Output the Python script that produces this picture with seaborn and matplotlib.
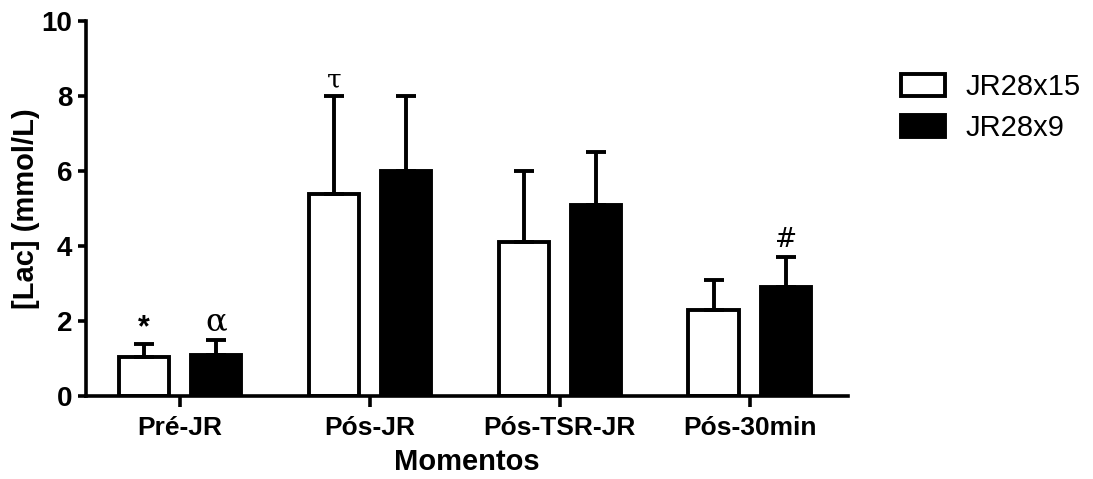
import matplotlib
matplotlib.use("Agg")
import matplotlib.pyplot as plt
import seaborn as sns
import pandas as pd
import numpy as np

categories = ["Pré-JR", "Pós-JR", "Pós-TSR-JR", "Pós-30min"]
groups = ["JR28x15", "JR28x9"]
means_jr15 = [1.05, 5.4, 4.1, 2.3]
means_jr9 = [1.1, 6.0, 5.1, 2.9]
err_jr15 = [0.33, 2.6, 1.9, 0.8]
err_jr9 = [0.4, 2.0, 1.4, 0.8]
annotations = [("JR28x15", "Pré-JR", "*"), ("JR28x9", "Pré-JR", "α"),
               ("JR28x15", "Pós-JR", "τ"), ("JR28x9", "Pós-30min", "#")]

df = pd.DataFrame({
    "Momentos": categories * 2,
    "Grupo": [groups[0]] * 4 + [groups[1]] * 4,
    "Lac": means_jr15 + means_jr9,
})

sns.set_style("ticks")
plt.rcParams["font.family"] = ["Liberation Sans", "DejaVu Sans"]
for k in ["text.color", "axes.labelcolor", "xtick.color", "ytick.color",
          "axes.edgecolor"]:
    plt.rcParams[k] = "black"

fig = plt.figure(figsize=(10.93, 4.79), dpi=100)
ax = fig.add_axes([0.0787, 0.173, 0.697, 0.783])

sns.barplot(data=df, x="Momentos", y="Lac", hue="Grupo", order=categories,
            hue_order=groups, palette={"JR28x15": "white", "JR28x9": "black"},
            edgecolor="black", linewidth=2.8, errorbar=None, width=0.76,
            gap=0.3, ax=ax, legend=True)

errs = {"JR28x15": err_jr15, "JR28x9": err_jr9}
means = {"JR28x15": means_jr15, "JR28x9": means_jr9}
pos = {}
for cont, g in zip(ax.containers, groups):
    xs = [b.get_x() + b.get_width() / 2 for b in cont]
    for c, x in zip(categories, xs):
        pos[(g, c)] = x
    e = np.array(errs[g])
    ax.errorbar(xs, means[g], yerr=[np.zeros_like(e), e], fmt="none",
                ecolor="black", elinewidth=2.8, capsize=7, capthick=2.8,
                zorder=1)

ann_style = {"*": (22, ["Liberation Sans"], "bold", 0.02),
             "α": (23, ["DejaVu Serif"], "normal", 0.08),
             "τ": (19, ["DejaVu Serif"], "normal", 0.1),
             "#": (19, ["DejaVu Sans"], "normal", 0.12)}
for g, c, s in annotations:
    i = categories.index(c)
    top = means[g][i] + errs[g][i]
    size, fam, wt, off = ann_style[s]
    ax.text(pos[(g, c)], top + off, s, ha="center", va="bottom",
            fontsize=size, family=fam, fontweight=wt)

ax.set_ylim(0, 10)
ax.set_xlim(-0.495, 3.516)
ax.set_yticks([0, 2, 4, 6, 8, 10])
ax.set_xlabel("Momentos", fontsize=21, fontweight="bold", labelpad=6)
ax.set_ylabel("[Lac] (mmol/L)", fontsize=21, fontweight="bold", labelpad=1)
ax.tick_params(axis="y", width=2.6, length=6, labelsize=20, pad=4)
ax.tick_params(axis="x", width=2.6, length=8, labelsize=19, pad=6)
for lbl in ax.get_xticklabels() + ax.get_yticklabels():
    lbl.set_fontweight("bold")
for sp in ["left", "bottom"]:
    ax.spines[sp].set_linewidth(2.6)
sns.despine(ax=ax)

handles, labels = ax.get_legend_handles_labels()
ax.legend(handles, labels, loc="upper left", bbox_to_anchor=(1.07, 0.862),
          frameon=False, fontsize=21, borderpad=0, handlelength=1.5,
          handleheight=0.8, handletextpad=0.7, labelspacing=0.45,
          borderaxespad=0)

fig.savefig("out.png", dpi=100)
